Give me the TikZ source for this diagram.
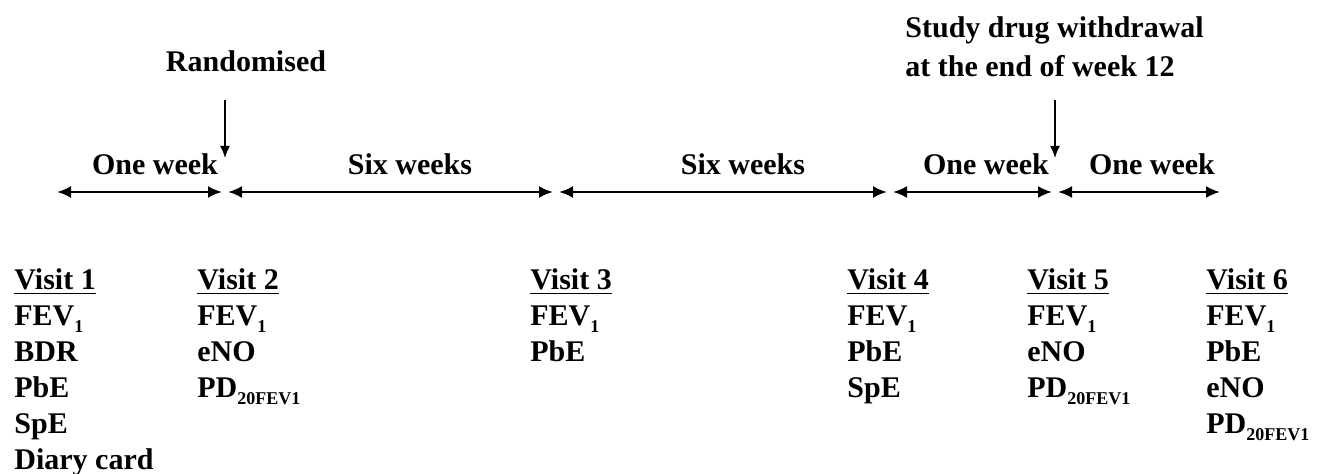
\documentclass[tikz,border=0pt]{standalone}
\usepackage{fontspec}
\setmainfont{Liberation Serif}
\usetikzlibrary{arrows.meta}
\newcommand\vlist[1]{\begin{tabular}[t]{@{}l@{}}#1\end{tabular}}
\newcommand\lowsub[1]{\raisebox{-0.5ex}{\fontsize{9}{9}\selectfont #1}}

\begin{document}
\begin{tikzpicture}[x=0.5pt, y=-0.5pt,
  lbl/.style={font=\fontsize{15}{18}\selectfont\bfseries, inner sep=0pt},
  span/.style={{Latex[length=7pt,width=6pt]}-{Latex[length=7pt,width=6pt]}, line width=1.2pt},
  pointer/.style={-{Latex[length=6pt,width=5pt]}, line width=0.8pt}]
\useasboundingbox (0,0) rectangle (1317,474);

% time line
\coordinate (t0) at (57,192);
\coordinate (t1) at (225,192);
\coordinate (t2) at (556,192);
\coordinate (t3) at (890,192);
\coordinate (t4) at (1055,192);
\coordinate (t5) at (1220,192);

\draw[span, shorten >=1.5pt] (t0) -- (t1);
\draw[span, shorten <=1.5pt, shorten >=1.5pt] (t1) -- (t2);
\draw[span, shorten <=1.5pt, shorten >=1.5pt] (t2) -- (t3);
\draw[span, shorten <=1.5pt, shorten >=1.5pt] (t3) -- (t4);
\draw[span, shorten <=1.5pt] (t4) -- (t5);

% durations
\node[lbl, anchor=base] (w1) at (155,175) {One week};
\node[lbl, anchor=base] (w2) at (410,175) {Six weeks};
\node[lbl, anchor=base] (w3) at (743,175) {Six weeks};
\node[lbl, anchor=base] (w4) at (986,175) {One week};
\node[lbl, anchor=base] (w5) at (1152,175) {One week};

% events
\node[lbl, anchor=base] (rand) at (246,72) {Randomised};
\coordinate (rtop) at (225,100);
\coordinate (rtip) at (225,158);
\draw[pointer] (rtop) -- (rtip);

\node[lbl, anchor=base west] (stop) at (905,38) {\vlist{Study drug withdrawal\\[1.5pt] at the end of week 12}};
\coordinate (stoptop) at (1055,100);
\coordinate (stoptip) at (1055,158);
\draw[pointer] (stoptop) -- (stoptip);

% visits
\node[lbl, anchor=base west] (v1) at (14,290) {\vlist{\underline{Visit 1}\\ FEV\lowsub{1}\\ BDR\\ PbE\\ SpE\\ Diary card}};
\node[lbl, anchor=base west] (v2) at (197,290) {\vlist{\underline{Visit 2}\\ FEV\lowsub{1}\\ eNO\\ PD\lowsub{20FEV1}}};
\node[lbl, anchor=base west] (v3) at (530,290) {\vlist{\underline{Visit 3}\\ FEV\lowsub{1}\\ PbE}};
\node[lbl, anchor=base west] (v4) at (847,290) {\vlist{\underline{Visit 4}\\ FEV\lowsub{1}\\ PbE\\ SpE}};
\node[lbl, anchor=base west] (v5) at (1027,290) {\vlist{\underline{Visit 5}\\ FEV\lowsub{1}\\ eNO\\ PD\lowsub{20FEV1}}};
\node[lbl, anchor=base west] (v6) at (1206,290) {\vlist{\underline{Visit 6}\\ FEV\lowsub{1}\\ PbE\\ eNO\\ PD\lowsub{20FEV1}}};

\end{tikzpicture}
\end{document}
